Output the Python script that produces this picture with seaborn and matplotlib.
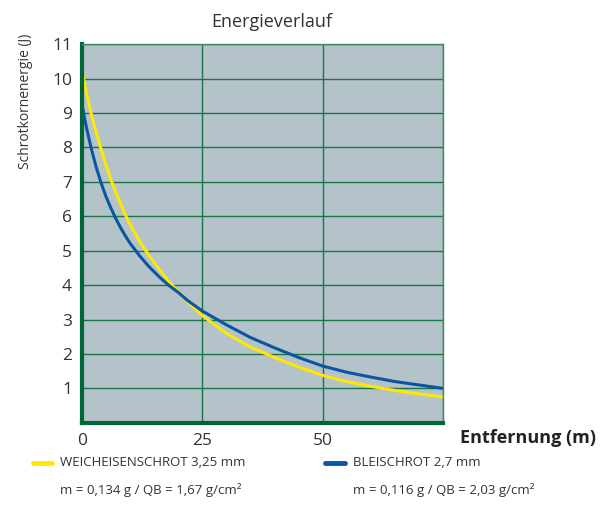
import numpy as np
import pandas as pd
import matplotlib
matplotlib.use("Agg")
import matplotlib.pyplot as plt
from matplotlib.lines import Line2D
import seaborn as sns

# Daten
entfernung = [0, 1, 2, 3, 4, 5, 6, 7, 8, 9, 10, 12, 14, 16, 18, 20, 22, 25, 30, 35,
              40, 45, 50, 55, 60, 65, 70, 75]
weicheisen = [10.25, 9.55, 8.95, 8.42, 7.95, 7.5, 7.08, 6.72, 6.38, 6.05, 5.77, 5.27,
              4.85, 4.48, 4.12, 3.8, 3.52, 3.12, 2.6, 2.2, 1.9, 1.62, 1.38, 1.2, 1.06,
              0.94, 0.84, 0.75]
blei = [9.27, 8.55, 7.95, 7.42, 6.97, 6.58, 6.25, 5.95, 5.68, 5.44, 5.22, 4.85, 4.53,
        4.25, 4.0, 3.79, 3.55, 3.25, 2.85, 2.48, 2.18, 1.9, 1.65, 1.47, 1.33, 1.2,
        1.1, 1.0]
x_ticks = [0, 25, 50]
y_ticks = [1, 2, 3, 4, 5, 6, 7, 8, 9, 10, 11]
serien = ["WEICHEISENSCHROT 3,25 mm", "BLEISCHROT 2,7 mm"]
serien_info = ["m = 0,134 g / QB = 1,67 g/cm²", "m = 0,116 g / QB = 2,03 g/cm²"]
farben = ["#ffe800", "#0a56a0"]

df = pd.DataFrame({
    "Entfernung": entfernung * 2,
    "Energie": weicheisen + blei,
    "Serie": [serien[0]] * len(entfernung) + [serien[1]] * len(entfernung),
})

gruen = "#1b7446"
sns.set_style("white", {"axes.facecolor": "#b4c2c9"})
plt.rcParams["font.family"] = ["Open Sans", "DejaVu Sans"]

fig = plt.figure(figsize=(6.06, 5.07), dpi=100)
ax = fig.add_axes([0.135, 0.166, 0.596, 0.747])

sns.lineplot(data=df, x="Entfernung", y="Energie", hue="Serie", palette=farben,
             linewidth=2.2, legend=False, ax=ax)

ax.set_xlim(0, 75)
ax.set_ylim(0, 11)
ax.set_xticks(x_ticks + [75])
ax.set_xticklabels([str(t) for t in x_ticks] + [""])
ax.set_yticks([0] + y_ticks)
ax.set_yticklabels([""] + [str(t) for t in y_ticks])
ax.tick_params(length=0, labelsize=12.5, labelcolor="#333333", pad=7)
ax.grid(True, color=gruen, linewidth=1.0)
ax.set_axisbelow(True)
ax.set_xlabel("")
ax.set_ylabel("")

for s in ["top", "right"]:
    ax.spines[s].set_color("#3d8a60")
    ax.spines[s].set_linewidth(1.0)
for s in ["left", "bottom"]:
    ax.spines[s].set_color("#00663a")
    ax.spines[s].set_linewidth(3.0)

fig.text(0.449, 0.957, "Energieverlauf", ha="center", va="center", fontsize=13, color="#333333")
fig.text(0.042, 0.80, "Schrotkornenergie (J)", rotation=90, ha="center", va="center",
         fontsize=10, color="#333333")
fig.text(0.983, 0.137, "Entfernung (m)", ha="right", va="center", fontsize=13,
         fontweight="bold", color="#222222")

# Legende
for i, (name, info, farbe) in enumerate(zip(serien, serien_info, farben)):
    x0 = 0.054 + i * 0.483
    fig.add_artist(Line2D([x0, x0 + 0.032], [0.087, 0.087], color=farbe, linewidth=3.5,
                          transform=fig.transFigure))
    fig.text(x0 + 0.045, 0.087, name, ha="left", va="center", fontsize=9.5, color="#333333")
    fig.text(x0 + 0.045, 0.033, info, ha="left", va="center", fontsize=9.5, color="#333333")

fig.savefig("out.png", dpi=100)
